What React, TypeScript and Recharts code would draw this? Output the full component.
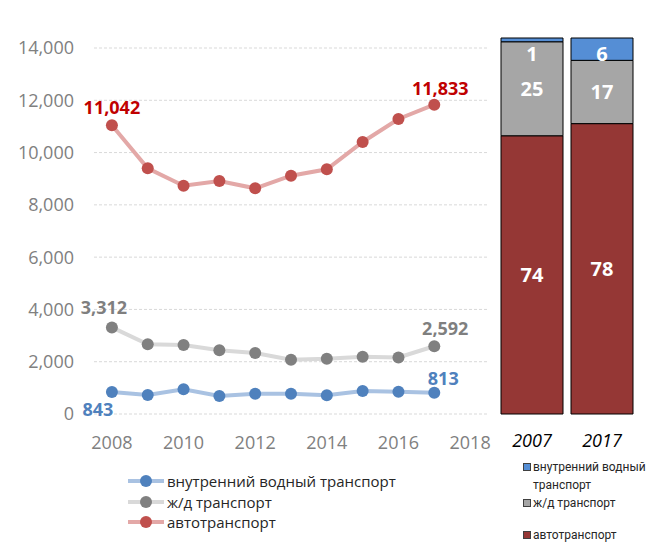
import React from "react";
import {
  LineChart,
  Line,
  XAxis,
  YAxis,
  CartesianGrid,
  LabelList,
  Legend,
  BarChart,
  Bar,
} from "recharts";

// freight by transport type, 2008-2017
const years = [2008, 2009, 2010, 2011, 2012, 2013, 2014, 2015, 2016, 2017];
const waterTransport = [843, 727, 943, 689, 778, 778, 714, 880, 854, 813];
const railTransport = [3312, 2665, 2639, 2435, 2333, 2078, 2116, 2193, 2160, 2592];
const roadTransport = [11042, 9398, 8733, 8913, 8633, 9116, 9360, 10404, 11284, 11833];

const yTicks = [0, 2000, 4000, 6000, 8000, 10000, 12000, 14000];
const xTicks = [2008, 2010, 2012, 2014, 2016, 2018];

// structure, %
const shareYears = ["2007", "2017"];
const waterShare = [1, 6];
const railShare = [25, 17];
const roadShare = [74, 78];

const WATER = "внутренний водный транспорт";
const RAIL = "ж/д транспорт";
const ROAD = "автотранспорт";

const FONT = "'Open Sans', 'Noto Sans', sans-serif";

const lineData = years.map((year, i) => ({
  year,
  water: waterTransport[i],
  rail: railTransport[i],
  road: roadTransport[i],
}));

const shareData = shareYears.map((year, i) => ({
  year,
  water: waterShare[i],
  rail: railShare[i],
  road: roadShare[i],
}));

const lineStyles: Record<string, { line: string; dot: string; label: string }> = {
  water: { line: "#a9c2e2", dot: "#4f81bd", label: "#4f81bd" },
  rail: { line: "#d9d9d9", dot: "#808080", label: "#7f7f7f" },
  road: { line: "#e3a8a7", dot: "#c0504d", label: "#c00000" },
};

const barColors: Record<string, string> = {
  water: "#558ed5",
  rail: "#a6a6a6",
  road: "#953735",
};

const legendOrder = ["water", "rail", "road"];

const fmt = (v: number) => Number(v).toLocaleString("en-US");

// only first and last point get a value label
const endLabel =
  (color: string, first: [number, number], last: [number, number]) =>
  (props: any) => {
    const { x, y, value, index } = props;
    if (index !== 0 && index !== years.length - 1) return null;
    const [dx, dy] = index === 0 ? first : last;
    return (
      <text
        x={x + dx}
        y={y + dy}
        textAnchor="middle"
        dominantBaseline="central"
        fill={color}
        fontSize={18}
        fontWeight={700}
        fontFamily={FONT}
      >
        {fmt(value)}
      </text>
    );
  };

const LineLegend = (props: any) => {
  const items = [...(props.payload || [])].sort(
    (a: any, b: any) => legendOrder.indexOf(a.dataKey) - legendOrder.indexOf(b.dataKey)
  );
  return (
    <div style={{ fontFamily: FONT, fontSize: 15, color: "#262626" }}>
      {items.map((it: any) => {
        const s = lineStyles[it.dataKey];
        return (
          <div
            key={it.dataKey}
            style={{ display: "flex", alignItems: "center", height: 20.5, whiteSpace: "nowrap" }}
          >
            <svg width={36} height={14} style={{ marginRight: 3 }}>
              <line x1={0} y1={7} x2={36} y2={7} stroke={s.line} strokeWidth={4} />
              <circle cx={18} cy={7} r={6} fill={s.dot} />
            </svg>
            <span>{it.value}</span>
          </div>
        );
      })}
    </div>
  );
};

const BarLegend = (props: any) => {
  const items = [...(props.payload || [])].sort(
    (a: any, b: any) => legendOrder.indexOf(a.dataKey) - legendOrder.indexOf(b.dataKey)
  );
  return (
    <div
      style={{
        fontFamily: "Roboto, 'Open Sans', sans-serif",
        fontSize: 12,
        lineHeight: "18px",
        color: "#262626",
        width: 124,
      }}
    >
      {items.map((it: any) => (
        <div
          key={it.dataKey}
          style={{ display: "flex", alignItems: "flex-start", marginTop: it.dataKey === "road" ? 14 : 0 }}
        >
          <span
            style={{
              flex: "none",
              width: 6,
              height: 6,
              marginTop: 5,
              marginRight: 2,
              background: barColors[it.dataKey],
              border: "1px solid #404040",
            }}
          />
          <span>{it.value}</span>
        </div>
      ))}
    </div>
  );
};

// "1" in 2007 is drawn below the thin segment
const waterShareLabel = (props: any) => {
  const { x, y, width, height, value } = props;
  const cy = Math.max(y + height / 2, y + 15);
  return (
    <text
      x={x + width / 2}
      y={cy}
      textAnchor="middle"
      dominantBaseline="central"
      fill="#fff"
      fontSize={20}
      fontWeight={700}
      fontFamily={FONT}
    >
      {value}
    </text>
  );
};

const shareLabelStyle = { fill: "#fff", fontSize: 20, fontWeight: 700, fontFamily: FONT };

export default function App() {
  return (
    <div
      style={{
        position: "absolute",
        left: 0,
        top: 0,
        width: 647,
        height: 542,
        background: "#fff",
        overflow: "hidden",
        fontFamily: FONT,
      }}
    >
      <div style={{ position: "absolute", left: 0, top: 0 }}>
        <LineChart
          width={500}
          height={542}
          data={lineData}
          margin={{ top: 48, right: 12, bottom: 98, left: 14 }}
        >
          <CartesianGrid vertical={false} stroke="#d9d9d9" strokeDasharray="3 2" />
          <XAxis
            dataKey="year"
            type="number"
            domain={[2007.5, 2018.5]}
            ticks={xTicks}
            height={30}
            axisLine={false}
            tickLine={false}
            tickSize={0}
            tickMargin={22}
            tick={{ fill: "#808080", fontSize: 18, fontFamily: FONT }}
          />
          <YAxis
            domain={[0, 14000]}
            ticks={yTicks}
            width={80}
            axisLine={false}
            tickLine={false}
            tickSize={0}
            tickMargin={20}
            tickFormatter={fmt}
            tick={{ fill: "#808080", fontSize: 18, fontFamily: FONT }}
          />
          <Legend
            layout="vertical"
            align="center"
            verticalAlign="middle"
            content={LineLegend}
            wrapperStyle={{ left: 128, top: 471, width: 300 }}
          />
          <Line
            dataKey="water"
            name={WATER}
            stroke={lineStyles.water.line}
            strokeWidth={4}
            dot={{ r: 6, fill: lineStyles.water.dot, stroke: "none" }}
            activeDot={false}
            isAnimationActive={false}
          >
            <LabelList dataKey="water" content={endLabel(lineStyles.water.label, [-14, 17], [9, -15])} />
          </Line>
          <Line
            dataKey="rail"
            name={RAIL}
            stroke={lineStyles.rail.line}
            strokeWidth={4}
            dot={{ r: 6, fill: lineStyles.rail.dot, stroke: "none" }}
            activeDot={false}
            isAnimationActive={false}
          >
            <LabelList dataKey="rail" content={endLabel(lineStyles.rail.label, [-8, -20], [11, -18])} />
          </Line>
          <Line
            dataKey="road"
            name={ROAD}
            stroke={lineStyles.road.line}
            strokeWidth={4}
            dot={{ r: 6, fill: lineStyles.road.dot, stroke: "none" }}
            activeDot={false}
            isAnimationActive={false}
          >
            <LabelList dataKey="road" content={endLabel(lineStyles.road.label, [0, -18], [6, -17])} />
          </Line>
        </LineChart>
      </div>

      <div style={{ position: "absolute", left: 480, top: 0 }}>
        <BarChart
          width={167}
          height={542}
          data={shareData}
          stackOffset="expand"
          barSize={62}
          margin={{ top: 38, right: 10, bottom: 98, left: 17 }}
        >
          <XAxis
            dataKey="year"
            height={30}
            axisLine={false}
            tickLine={false}
            tickSize={0}
            tickMargin={20}
            tick={{ fill: "#000", fontSize: 18, fontStyle: "italic", fontFamily: FONT }}
          />
          <YAxis hide domain={[0, 1]} />
          <Legend
            layout="vertical"
            align="center"
            verticalAlign="middle"
            content={BarLegend}
            wrapperStyle={{ left: 43, top: 458, width: 124 }}
          />
          <Bar
            dataKey="road"
            name={ROAD}
            stackId="s"
            fill={barColors.road}
            stroke="#000"
            strokeWidth={1}
            isAnimationActive={false}
          >
            <LabelList dataKey="road" position="center" style={shareLabelStyle} />
          </Bar>
          <Bar
            dataKey="rail"
            name={RAIL}
            stackId="s"
            fill={barColors.rail}
            stroke="#000"
            strokeWidth={1}
            isAnimationActive={false}
          >
            <LabelList dataKey="rail" position="center" style={shareLabelStyle} />
          </Bar>
          <Bar
            dataKey="water"
            name={WATER}
            stackId="s"
            fill={barColors.water}
            stroke="#000"
            strokeWidth={1}
            isAnimationActive={false}
          >
            <LabelList dataKey="water" content={waterShareLabel} />
          </Bar>
        </BarChart>
      </div>
    </div>
  );
}
